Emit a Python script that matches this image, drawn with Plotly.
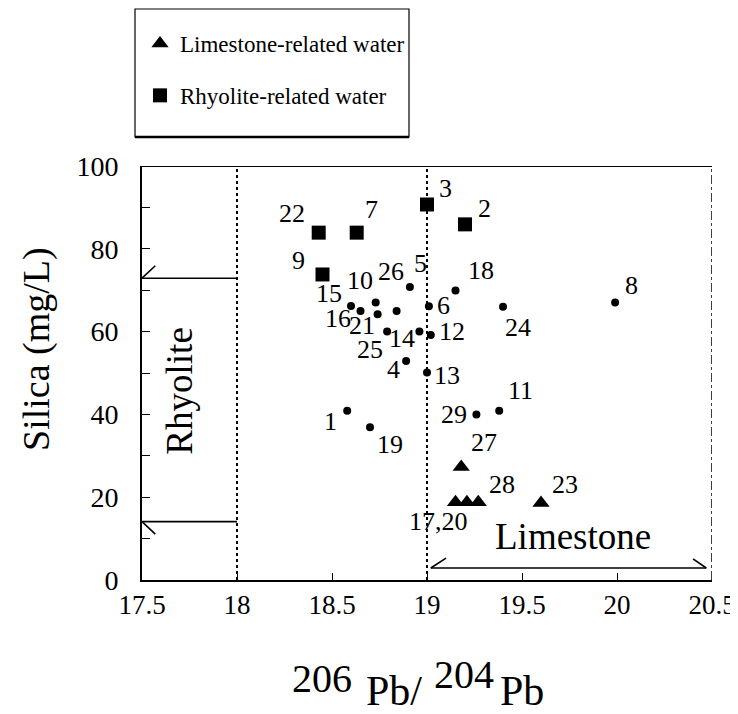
import plotly.graph_objects as go

# ---------------- data ----------------
circle_ids = ["1", "4", "5", "6", "8", "10", "11", "12", "13", "14", "15", "16",
              "18", "19", "21", "24", "25", "26", "29"]
circle_pb = [18.58, 18.89, 18.91, 19.01, 19.99, 18.73, 19.38, 19.02, 19.00, 18.96,
             18.60, 18.65, 19.15, 18.70, 18.74, 19.40, 18.79, 18.84, 19.26]
circle_si = [40.9, 52.9, 70.8, 66.1, 67.0, 67.0, 40.9, 59.2, 50.1, 60.0,
             66.2, 65.0, 69.9, 36.9, 64.2, 66.0, 60.0, 65.0, 40.0]

rhy_ids = ["2", "3", "7", "9", "22"]
rhy_pb = [19.20, 19.00, 18.63, 18.45, 18.43]
rhy_si = [85.9, 90.7, 83.9, 73.8, 83.9]

lime_ids = ["17,20", "", "27", "28", "23"]
lime_pb = [19.15, 19.21, 19.18, 19.27, 19.60]
lime_si = [18.8, 18.8, 27.3, 18.8, 18.6]

x_ticks = [17.5, 18, 18.5, 19, 19.5, 20, 20.5]
x_tick_text = ["17.5", "18", "18.5", "19", "19.5", "20", "20.5"]
y_ticks = [0, 20, 40, 60, 80, 100]

# field ranges
rhyolite_pb = (17.5, 18.0)
rhyolite_si = (14.1, 72.9)
limestone_pb = (19.0, 20.5)
limestone_si = 2.9

# label offsets in px (dx right, dy up)
label_offsets = {
    "1": (-17, -11), "4": (-13, -9), "5": (11, 23), "6": (15, 1), "8": (16, 17),
    "10": (-16, 22), "11": (21, 20), "12": (21, 3), "13": (20, -3), "14": (-17, -7),
    "15": (-22, 12), "16": (-23, -8), "18": (25, 20), "19": (20, -17), "21": (-16, -11),
    "24": (15, -21), "25": (-17, -18), "26": (-6, 39), "29": (-22, 0),
    "2": (19, 16), "3": (18, 16), "7": (15, 23), "9": (-24, 14), "22": (-27, 19),
    "17,20": (-17, -19), "27": (23, 24), "28": (24, 18), "23": (24, 19),
}

FONT = "Liberation Serif"
OFF = 8  # page offset of the figure inside the browser window
W, H = 730, 706
ML, MR, MT, MB = 134, 26, 158, 134
PW, PH = W - ML - MR, H - MT - MB


def px2paper(px, py):
    """window pixel -> paper coordinates"""
    return (px - OFF - ML) / PW, (H - MB - (py - OFF)) / PH


fig = go.Figure()
fig.add_trace(go.Scatter(
    x=lime_pb, y=lime_si, mode="markers", name="Limestone-related water",
    legendgroup="a",
    marker=dict(symbol="triangle-up", size=15, color="black"), cliponaxis=False))
fig.add_trace(go.Scatter(
    x=rhy_pb, y=rhy_si, mode="markers", name="Rhyolite-related water",
    legendgroup="b",
    marker=dict(symbol="square", size=14, color="black"), cliponaxis=False))
fig.add_trace(go.Scatter(
    x=circle_pb, y=circle_si, mode="markers", showlegend=False,
    marker=dict(symbol="circle", size=8, color="black")))

annotations = []
for ids, xs, ys in [(circle_ids, circle_pb, circle_si), (rhy_ids, rhy_pb, rhy_si),
                    (lime_ids, lime_pb, lime_si)]:
    for i, x, y in zip(ids, xs, ys):
        if not i:
            continue
        dx, dy = label_offsets[i]
        annotations.append(dict(x=x, y=y, text=i, showarrow=False, xshift=dx, yshift=dy,
                                xanchor="center", yanchor="middle",
                                font=dict(family=FONT, size=26, color="black")))

# field labels
annotations.append(dict(x=17.7, y=45.5, text="Rhyolite",
                        textangle=-90, showarrow=False, xanchor="center", yanchor="middle",
                        font=dict(family=FONT, size=37, color="black")))
annotations.append(dict(x=19.77, y=10.6, text="Limestone", showarrow=False,
                        xanchor="center", yanchor="middle",
                        font=dict(family=FONT, size=37, color="black")))

# y title
xp, yp = px2paper(36, 349)
annotations.append(dict(x=xp, y=yp, xref="paper", yref="paper", text="Silica (mg/L)",
                        textangle=-90, showarrow=False, xanchor="center", yanchor="middle",
                        font=dict(family=FONT, size=38, color="black")))
# x title pieces
for txt, cx, cy, fs in [("206", 322, 678, 40), ("Pb/", 394, 691, 42),
                        ("204", 464, 674, 40), ("Pb", 522, 691, 42)]:
    xp, yp = px2paper(cx, cy)
    annotations.append(dict(x=xp, y=yp, xref="paper", yref="paper", text=txt,
                            showarrow=False, xanchor="center", yanchor="middle",
                            font=dict(family=FONT, size=fs, color="black")))

shapes = []
line = dict(color="black", width=1.6)
dot = dict(color="black", width=2, dash="dot")
# top border and right dotted border
shapes.append(dict(type="line", x0=17.5, x1=20.5, y0=100, y1=100, line=dict(color="black", width=2)))
shapes.append(dict(type="line", x0=20.5, x1=20.5, y0=0, y1=100, line=dict(color="black", width=1.5, dash="dashdot")))
# vertical dotted boundaries
for xv in [rhyolite_pb[1], limestone_pb[0]]:
    shapes.append(dict(type="line", x0=xv, x1=xv, y0=0, y1=100, line=dot))
# rhyolite bracket
for yv, sgn in [(rhyolite_si[1], 1), (rhyolite_si[0], -1)]:
    shapes.append(dict(type="line", x0=rhyolite_pb[0], x1=rhyolite_pb[1], y0=yv, y1=yv, line=line))
    shapes.append(dict(type="line", x0=rhyolite_pb[0], x1=rhyolite_pb[0] + 0.07,
                       y0=yv, y1=yv + sgn * 3.0, line=line))
# limestone bracket
l0, l1 = limestone_pb[0] + 0.02, limestone_pb[1] - 0.03
shapes.append(dict(type="line", x0=l0, x1=l1, y0=limestone_si, y1=limestone_si, line=line))
shapes.append(dict(type="line", x0=l0, x1=l0 + 0.08, y0=limestone_si, y1=limestone_si + 2.4, line=line))
shapes.append(dict(type="line", x0=l1, x1=l1 - 0.07, y0=limestone_si, y1=limestone_si + 2.2, line=line))
# legend box
bx0, by0 = px2paper(135, 137)
bx1, by1 = px2paper(409, 9)
shapes.append(dict(type="rect", xref="paper", yref="paper", x0=bx0, x1=bx1, y0=by0, y1=by1,
                   line=dict(color="black", width=1.2)))
shapes.append(dict(type="line", xref="paper", yref="paper", x0=bx0, x1=bx1, y0=by0, y1=by0,
                   line=dict(color="black", width=2.5)))

lx, ly = px2paper(140, 22)
fig.update_layout(
    width=W, height=H,
    margin=dict(l=ML, r=MR, t=MT, b=MB, autoexpand=False),
    paper_bgcolor="white", plot_bgcolor="white",
    font=dict(family=FONT, color="black"),
    showlegend=True,
    legend=dict(x=lx, y=ly, xanchor="left", yanchor="top", bgcolor="rgba(0,0,0,0)",
                borderwidth=0, tracegroupgap=19,
                font=dict(family=FONT, size=23, color="black")),
    xaxis=dict(range=[17.5, 20.5], tickvals=x_ticks, ticktext=x_tick_text,
               ticks="inside", ticklen=7, tickwidth=1.2, tickcolor="black",
               showline=True, linecolor="black", linewidth=2, showgrid=False, zeroline=False,
               tickfont=dict(family=FONT, size=27, color="black"), ticklabelstandoff=0),
    yaxis=dict(range=[0, 100], tickvals=y_ticks,
               ticks="inside", ticklen=8, tickwidth=1.2, tickcolor="black",
               minor=dict(dtick=10, ticks="inside", ticklen=8, tickcolor="black", tickwidth=1.2),
               showline=True, linecolor="black", linewidth=2, showgrid=False, zeroline=False,
               tickfont=dict(family=FONT, size=28, color="black"), ticklabelstandoff=16),
    annotations=annotations,
    shapes=shapes,
)

fig.write_html("out.html")
